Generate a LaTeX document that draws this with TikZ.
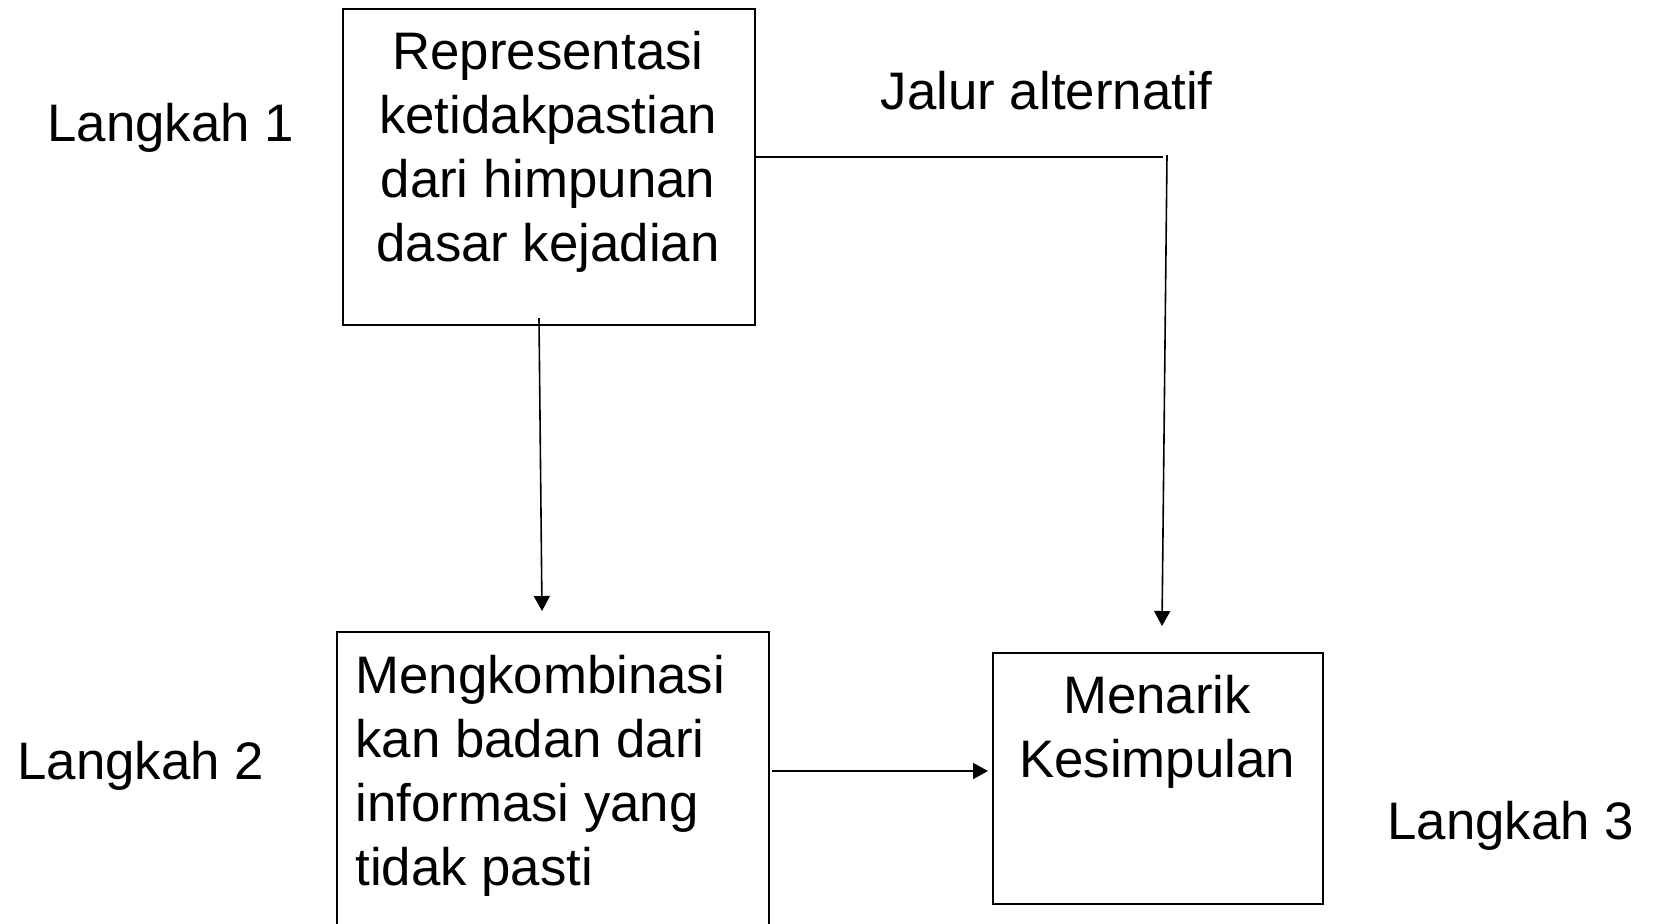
\documentclass[tikz,border=0pt]{standalone}
\usepackage{fontspec}
\setmainfont{Liberation Sans}
\usetikzlibrary{arrows.meta}
\begin{document}
\begin{tikzpicture}[x=0.5pt,y=-0.5pt,
  box/.style={draw=black,line width=1pt,inner sep=0pt,anchor=north west},
  lbl/.style={inner sep=0pt,font=\fontsize{26.4pt}{32pt}\selectfont},
  conn/.style={line width=0.8pt,-{Triangle[length=7.5pt,width=8pt]}},
  plain/.style={line width=0.8pt}]
\useasboundingbox (0,0) rectangle (1655,923);
\clip (0,0) rectangle (1655,923);
% boxes
\node[box,minimum width=206.2pt,minimum height=157.9pt] (b1) at (341.7,8.3) {};
\node[box,minimum width=215.9pt,minimum height=165pt] (b2) at (336,630.7) {};
\node[box,minimum width=165pt,minimum height=125.5pt] (b3) at (992,652) {};
% texts (anchor base = baseline of last line)
\node[lbl,align=center,anchor=base] (t1) at (548,261) {Representasi\\ketidakpastian\\dari himpunan\\dasar kejadian};
\node[lbl,align=left,anchor=base west] (t2) at (355,885) {Mengkombinasi\\kan badan dari\\informasi yang\\tidak pasti};
\node[lbl,align=center,anchor=base] (t3) at (1157,777) {Menarik\\Kesimpulan};
\node[lbl,anchor=base west] (l1) at (47,141) {Langkah 1};
\node[lbl,anchor=base west] (l2) at (17,779) {Langkah 2};
\node[lbl,anchor=base west] (l3) at (1387,839) {Langkah 3};
\node[lbl,anchor=base west] (ja) at (880.5,109) {Jalur alternatif};
% connector ends
\coordinate (a1s) at (539,318);
\coordinate (a1e) at (542,611);
\coordinate (h0) at (754,157);
\coordinate (h1) at (1163,157);
\coordinate (v0) at (1167,155);
\coordinate (v1) at (1162,626);
\coordinate (a2s) at (772,771);
\coordinate (a2e) at (988,771);
% connectors
\draw[conn] (a1s) -- (a1e);
\draw[plain] (h0) -- (h1);
\draw[conn] (v0) -- (v1);
\draw[conn] (a2s) -- (a2e);
\end{tikzpicture}
\end{document}
